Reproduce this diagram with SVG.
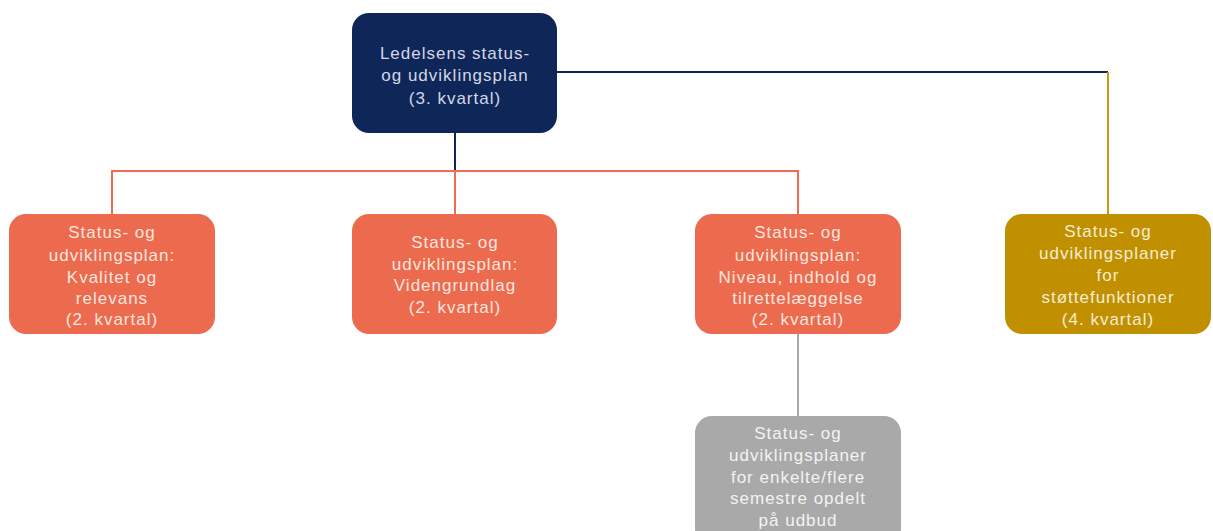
<svg xmlns="http://www.w3.org/2000/svg" width="1213" height="531" viewBox="0 0 1213 531">
<style>
.t{font-family:"Liberation Sans",Arial,sans-serif;font-size:17px;text-anchor:middle;letter-spacing:1px}
.n{fill:#0f2658}.o{fill:#ec6a4e}.g{fill:#c09000}.y{fill:#a9a9a9}
.tn{fill:#d3d7e6}.to{fill:#fde6de}.tg{fill:#f6ecd2}.ty{fill:#f3f3f3}
.c{fill:none;stroke-width:2}
</style>
<rect width="1213" height="531" fill="#fff"/>
<g id="connectors">
<path class="c" stroke="#0f2658" d="M455 133V171"/>
<path class="c" stroke="#ef6c52" d="M112 214V171H798V214M455 171V214"/>
<path class="c" stroke="#0f2658" d="M557 72H1108"/>
<path class="c" stroke="#c69a12" d="M1108 72V214"/>
<path class="c" stroke="#a9a9a9" d="M798 334V416"/>
</g>
<g id="n0"><rect class="n" x="352" y="13" width="205" height="120" rx="17"/>
<text class="t tn"><tspan x="455" y="59">Ledelsens status-</tspan><tspan x="455" y="81">og udviklingsplan</tspan><tspan x="455" y="104">(3. kvartal)</tspan></text></g>
<g id="n1"><rect class="o" x="9" y="214" width="206" height="120" rx="17"/>
<text class="t to"><tspan x="112" y="238">Status- og</tspan><tspan x="112" y="261">udviklingsplan:</tspan><tspan x="112" y="283">Kvalitet og</tspan><tspan x="112" y="304">relevans</tspan><tspan x="112" y="325">(2. kvartal)</tspan></text></g>
<g id="n2"><rect class="o" x="352" y="214" width="205" height="120" rx="17"/>
<text class="t to"><tspan x="455" y="248">Status- og</tspan><tspan x="455" y="270">udviklingsplan:</tspan><tspan x="455" y="291">Videngrundlag</tspan><tspan x="455" y="313">(2. kvartal)</tspan></text></g>
<g id="n3"><rect class="o" x="695" y="214" width="206" height="120" rx="17"/>
<text class="t to"><tspan x="798" y="238">Status- og</tspan><tspan x="798" y="261">udviklingsplan:</tspan><tspan x="798" y="283">Niveau, indhold og</tspan><tspan x="798" y="304">tilrettelæggelse</tspan><tspan x="798" y="325">(2. kvartal)</tspan></text></g>
<g id="n4"><rect class="g" x="1005" y="214" width="206" height="120" rx="17"/>
<text class="t tg"><tspan x="1108" y="237">Status- og</tspan><tspan x="1108" y="259">udviklingsplaner</tspan><tspan x="1108" y="281">for</tspan><tspan x="1108" y="303">støttefunktioner</tspan><tspan x="1108" y="325">(4. kvartal)</tspan></text></g>
<g id="n5"><rect class="y" x="695" y="416" width="206" height="130" rx="17"/>
<text class="t ty"><tspan x="798" y="439">Status- og</tspan><tspan x="798" y="461">udviklingsplaner</tspan><tspan x="798" y="483">for enkelte/flere</tspan><tspan x="798" y="504">semestre opdelt</tspan><tspan x="798" y="526">på udbud</tspan></text></g>
</svg>
